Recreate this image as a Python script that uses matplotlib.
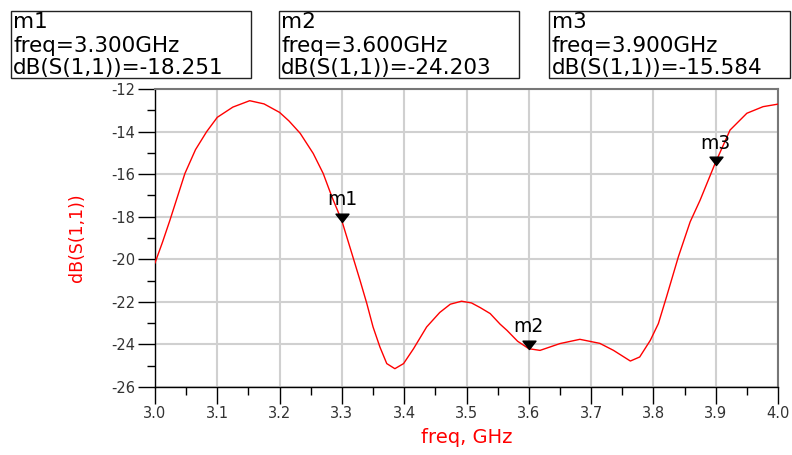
import matplotlib
matplotlib.use("Agg")
import matplotlib.pyplot as plt
from matplotlib.patches import Rectangle
from matplotlib.path import Path
from matplotlib.ticker import MultipleLocator

# S11 trace
freq = [3.000, 3.012, 3.024, 3.048, 3.065, 3.083, 3.100, 3.125, 3.152, 3.175,
        3.200, 3.215, 3.233, 3.254, 3.270, 3.284, 3.300, 3.316, 3.329, 3.340,
        3.350, 3.361, 3.372, 3.385, 3.399, 3.415, 3.436, 3.457, 3.474, 3.492,
        3.508, 3.522, 3.538, 3.554, 3.565, 3.582, 3.600, 3.618, 3.650, 3.682,
        3.714, 3.736, 3.763, 3.778, 3.795, 3.808, 3.821, 3.840, 3.859, 3.875,
        3.899, 3.923, 3.950, 3.976, 4.000]
s11_db = [-20.17, -19.20, -18.16, -15.97, -14.85, -14.00, -13.33, -12.85, -12.55, -12.70,
          -13.10, -13.50, -14.08, -15.03, -15.97, -17.07, -18.20, -19.73, -20.98, -22.08,
          -23.18, -24.12, -24.90, -25.14, -24.90, -24.20, -23.18, -22.50, -22.11, -21.97,
          -22.05, -22.27, -22.55, -23.05, -23.34, -23.85, -24.20, -24.28, -23.96, -23.76,
          -23.95, -24.28, -24.78, -24.59, -23.81, -23.02, -21.77, -19.89, -18.24, -17.22,
          -15.50, -13.93, -13.14, -12.83, -12.71]

marker_names = ["m1", "m2", "m3"]
marker_freq = [3.3, 3.6, 3.9]
marker_db = [-18.251, -24.203, -15.584]

plt.rcParams['axes.unicode_minus'] = False

fig = plt.figure(figsize=(7.92, 4.55), dpi=100)
ax = fig.add_axes([155 / 792, 1 - 387 / 455, 623 / 792, 298 / 455])

ax.plot(freq, s11_db, color='#ff0000', lw=1.0, zorder=3)

# downward triangle whose tip sits on the data point
tri = Path([(-0.78, 1.0), (0.78, 1.0), (0.0, 0.0), (-0.78, 1.0)],
           [Path.MOVETO, Path.LINETO, Path.LINETO, Path.CLOSEPOLY])
ax.plot(marker_freq, marker_db, linestyle='none', marker=tri, markersize=12,
        color='black', zorder=4)
for name, f, v in zip(marker_names, marker_freq, marker_db):
    ax.annotate(name, (f, v), xytext=(0, 12), textcoords='offset points',
                ha='center', va='baseline', fontsize=13.5, color='black', zorder=5)

ax.set_xlim(3.0, 4.0)
ax.set_ylim(-26, -12)
ax.xaxis.set_major_locator(MultipleLocator(0.1))
ax.xaxis.set_minor_locator(MultipleLocator(0.05))
ax.yaxis.set_major_locator(MultipleLocator(2))
ax.yaxis.set_minor_locator(MultipleLocator(1))
ax.xaxis.set_major_formatter(plt.FormatStrFormatter('%.1f'))

ax.grid(True, which='major', color='#d0d0d0', lw=1.5, zorder=0)
ax.tick_params(which='major', direction='out', length=12, width=1, pad=2,
               labelsize=10.5, labelcolor='#333333')
ax.tick_params(which='minor', direction='out', length=6, width=1)

for side in ['left', 'bottom']:
    ax.spines[side].set_color('black')
    ax.spines[side].set_linewidth(1)
for side in ['top', 'right']:
    ax.spines[side].set_color('#777777')
    ax.spines[side].set_linewidth(1.5)

ax.set_xlabel('freq, GHz', color='#ff0000', fontsize=14, va='center')
ax.xaxis.set_label_coords(0.5, -0.171)
ax.set_ylabel('dB(S(1,1))', color='#ff0000', fontsize=12.5, va='center')
ax.yaxis.set_label_coords(-0.125, 0.5)

# marker readout boxes
box_left = [10.7, 278.5, 549.3]
box_w = 240.5
for i, (name, f, v) in enumerate(zip(marker_names, marker_freq, marker_db)):
    x0 = box_left[i]
    fig.add_artist(Rectangle((x0 / 792, 1 - 78.3 / 455), box_w / 792, 67.6 / 455,
                             transform=fig.transFigure, fill=False,
                             edgecolor='#222222', lw=1.0))
    lines = [name, f"freq={f:.3f}GHz", f"dB(S(1,1))={v:.3f}"]
    for line, base in zip(lines, [28.5, 51.5, 74.0]):
        fig.text((x0 + 2.5) / 792, 1 - base / 455, line, fontsize=15.5,
                 ha='left', va='baseline', color='black')

fig.savefig('out.png', dpi=100)
